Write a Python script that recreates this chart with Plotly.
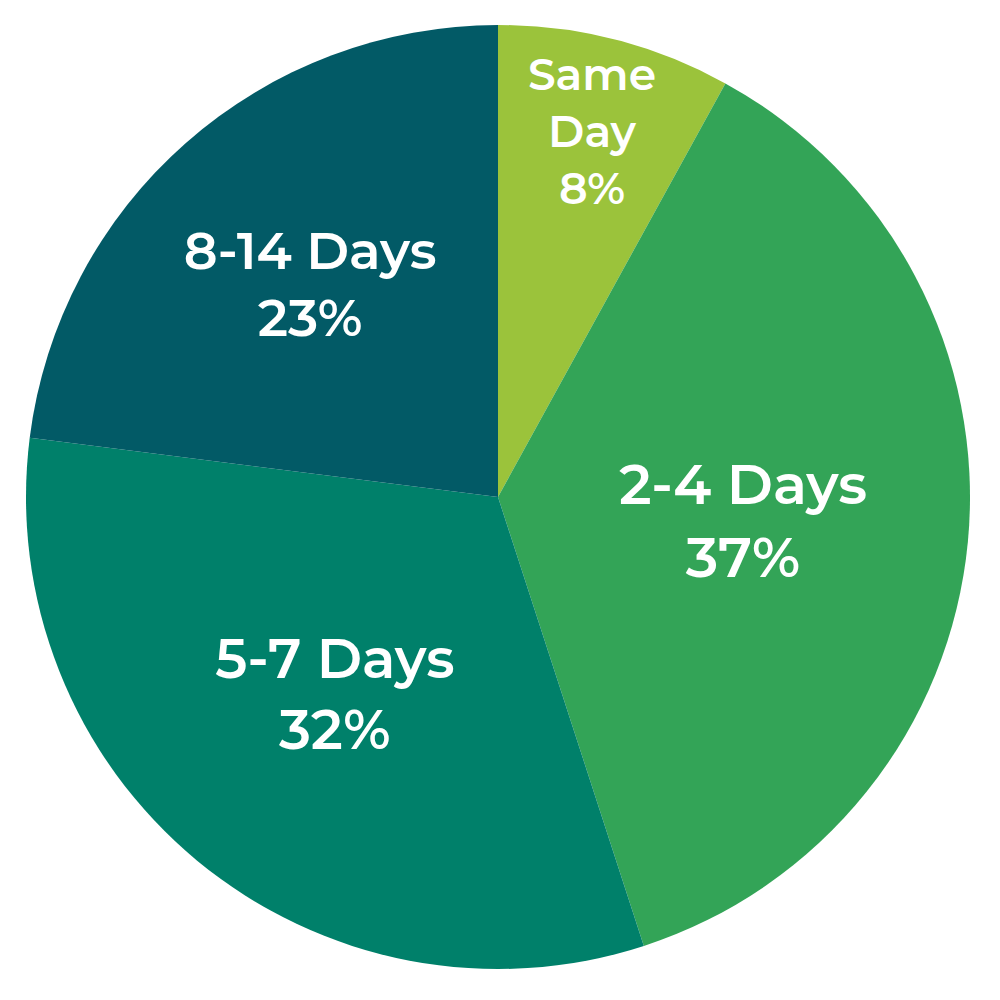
import plotly.graph_objects as go

categories = ["Same Day", "2-4 Days", "5-7 Days", "8-14 Days"]
values = [8, 37, 32, 23]
colors = ["#9BC33B", "#33A457", "#00806A", "#025A66"]

labels_text = ["Same<br>Day<br>8%"] + [f"{c}<br>{v}%" for c, v in zip(categories[1:], values[1:])]
font_sizes = [44, 56, 55, 52]

fig = go.Figure(go.Pie(
    labels=categories,
    values=values,
    text=labels_text,
    textinfo="text",
    textposition="inside",
    insidetextorientation="horizontal",
    sort=False,
    direction="clockwise",
    rotation=0,
    marker=dict(colors=colors, line=dict(width=0)),
    insidetextfont=dict(family="Montserrat, Lato, Open Sans, sans-serif", size=font_sizes, color="white", weight=600),
    hoverinfo="label+percent",
    showlegend=False,
))

fig.update_layout(
    width=1000, height=1000,
    margin=dict(l=18, r=38, t=17, b=39),
    paper_bgcolor="white",
    plot_bgcolor="white",
    uniformtext=dict(minsize=44, mode="show"),
)

fig.write_html("out.html")
